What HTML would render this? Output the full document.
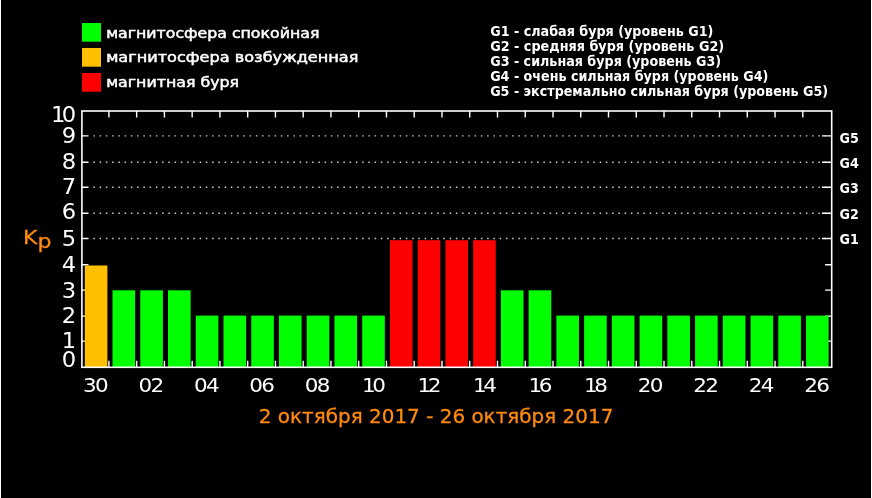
<!DOCTYPE html>
<html lang="ru"><head><meta charset="utf-8"><title>Kp</title>
<style>html,body{margin:0;padding:0;background:#000;}body{width:872px;height:498px;overflow:hidden;}svg{display:block;}.t{font-family:"DejaVu Sans","Liberation Sans",sans-serif;fill:#fff;}.b{font-family:"DejaVu Sans","Liberation Sans",sans-serif;font-weight:bold;fill:#fff;}.o{fill:#ff8a10;}</style></head><body>
<svg width="872" height="498" viewBox="0 0 872 498">
<rect x="0" y="0" width="872" height="498" fill="#000"/>
<rect x="0" y="0" width="1" height="498" fill="#fff"/><rect x="871" y="0" width="1" height="498" fill="#fff"/>
<defs><filter id="soft" x="0" y="0" width="872" height="498" filterUnits="userSpaceOnUse"><feGaussianBlur stdDeviation="0.45"/></filter></defs>
<g filter="url(#soft)">
<rect x="82" y="23" width="19" height="18.7" fill="#00ff00"/>
<rect x="82" y="48" width="19" height="18.7" fill="#ffc000"/>
<rect x="82" y="73" width="19" height="18.7" fill="#ff0000"/>
<text class="t" x="106.2" y="37.7" font-size="14.2" textLength="213.2" lengthAdjust="spacingAndGlyphs" stroke="#fff" stroke-width="0.5">магнитосфера спокойная</text>
<text class="t" x="106.2" y="62.4" font-size="14.2" textLength="252.2" lengthAdjust="spacingAndGlyphs" stroke="#fff" stroke-width="0.5">магнитосфера возбужденная</text>
<text class="t" x="106.2" y="87.0" font-size="14.2" textLength="132.9" lengthAdjust="spacingAndGlyphs" stroke="#fff" stroke-width="0.5">магнитная буря</text>
<text class="b" x="490.2" y="35.6" font-size="14" textLength="223.2" lengthAdjust="spacingAndGlyphs">G1 - слабая буря (уровень G1)</text>
<text class="b" x="490.2" y="50.7" font-size="14" textLength="234.0" lengthAdjust="spacingAndGlyphs">G2 - средняя буря (уровень G2)</text>
<text class="b" x="490.2" y="65.6" font-size="14" textLength="231.0" lengthAdjust="spacingAndGlyphs">G3 - сильная буря (уровень G3)</text>
<text class="b" x="490.2" y="80.5" font-size="14" textLength="278.2" lengthAdjust="spacingAndGlyphs">G4 - очень сильная буря (уровень G4)</text>
<text class="b" x="490.2" y="95.6" font-size="14" textLength="337.9" lengthAdjust="spacingAndGlyphs">G5 - экстремально сильная буря (уровень G5)</text>
<line x1="93.35" y1="238.50" x2="825.7" y2="238.50" stroke="#ccc" stroke-width="1.4" stroke-dasharray="1.5 4.7504"/>
<line x1="93.35" y1="213.30" x2="825.7" y2="213.30" stroke="#ccc" stroke-width="1.4" stroke-dasharray="1.5 4.7504"/>
<line x1="93.35" y1="187.30" x2="825.7" y2="187.30" stroke="#ccc" stroke-width="1.4" stroke-dasharray="1.5 4.7504"/>
<line x1="93.35" y1="162.20" x2="825.7" y2="162.20" stroke="#ccc" stroke-width="1.4" stroke-dasharray="1.5 4.7504"/>
<line x1="93.35" y1="135.90" x2="825.7" y2="135.90" stroke="#ccc" stroke-width="1.4" stroke-dasharray="1.5 4.7504"/>
<path d="M108.90 111.0v6.5M108.90 367.3v-6.5M136.65 111.0v6.5M136.65 367.3v-6.5M164.41 111.0v6.5M164.41 367.3v-6.5M192.16 111.0v6.5M192.16 367.3v-6.5M219.92 111.0v6.5M219.92 367.3v-6.5M247.68 111.0v6.5M247.68 367.3v-6.5M275.43 111.0v6.5M275.43 367.3v-6.5M303.19 111.0v6.5M303.19 367.3v-6.5M330.94 111.0v6.5M330.94 367.3v-6.5M358.70 111.0v6.5M358.70 367.3v-6.5M386.46 111.0v6.5M386.46 367.3v-6.5M414.21 111.0v6.5M414.21 367.3v-6.5M441.97 111.0v6.5M441.97 367.3v-6.5M469.72 111.0v6.5M469.72 367.3v-6.5M497.48 111.0v6.5M497.48 367.3v-6.5M525.24 111.0v6.5M525.24 367.3v-6.5M552.99 111.0v6.5M552.99 367.3v-6.5M580.75 111.0v6.5M580.75 367.3v-6.5M608.50 111.0v6.5M608.50 367.3v-6.5M636.26 111.0v6.5M636.26 367.3v-6.5M664.02 111.0v6.5M664.02 367.3v-6.5M691.77 111.0v6.5M691.77 367.3v-6.5M719.53 111.0v6.5M719.53 367.3v-6.5M747.28 111.0v6.5M747.28 367.3v-6.5M775.04 111.0v6.5M775.04 367.3v-6.5M802.80 111.0v6.5M802.80 367.3v-6.5M81.9 341.10h6.6M831.7 341.10h-6.6M81.9 316.10h6.6M831.7 316.10h-6.6M81.9 290.10h6.6M831.7 290.10h-6.6M81.9 264.80h6.6M831.7 264.80h-6.6M81.9 238.50h6.6M831.7 238.50h-9.7M81.9 213.30h6.6M831.7 213.30h-9.7M81.9 187.30h6.6M831.7 187.30h-9.7M81.9 162.20h6.6M831.7 162.20h-9.7M81.9 135.90h6.6M831.7 135.90h-9.7" stroke="#fff" stroke-width="1.4" fill="none"/>
<rect x="84.80" y="265.50" width="22.6" height="101.80" fill="#ffc000"/>
<rect x="112.54" y="290.30" width="22.6" height="77.00" fill="#00ff00"/>
<rect x="140.28" y="290.30" width="22.6" height="77.00" fill="#00ff00"/>
<rect x="168.02" y="290.30" width="22.6" height="77.00" fill="#00ff00"/>
<rect x="195.76" y="315.60" width="22.6" height="51.70" fill="#00ff00"/>
<rect x="223.50" y="315.60" width="22.6" height="51.70" fill="#00ff00"/>
<rect x="251.24" y="315.60" width="22.6" height="51.70" fill="#00ff00"/>
<rect x="278.98" y="315.60" width="22.6" height="51.70" fill="#00ff00"/>
<rect x="306.72" y="315.60" width="22.6" height="51.70" fill="#00ff00"/>
<rect x="334.46" y="315.60" width="22.6" height="51.70" fill="#00ff00"/>
<rect x="362.20" y="315.60" width="22.6" height="51.70" fill="#00ff00"/>
<rect x="389.94" y="240.20" width="22.6" height="127.10" fill="#ff0000"/>
<rect x="417.68" y="240.20" width="22.6" height="127.10" fill="#ff0000"/>
<rect x="445.42" y="240.20" width="22.6" height="127.10" fill="#ff0000"/>
<rect x="473.16" y="240.20" width="22.6" height="127.10" fill="#ff0000"/>
<rect x="500.90" y="290.30" width="22.6" height="77.00" fill="#00ff00"/>
<rect x="528.64" y="290.30" width="22.6" height="77.00" fill="#00ff00"/>
<rect x="556.38" y="315.60" width="22.6" height="51.70" fill="#00ff00"/>
<rect x="584.12" y="315.60" width="22.6" height="51.70" fill="#00ff00"/>
<rect x="611.86" y="315.60" width="22.6" height="51.70" fill="#00ff00"/>
<rect x="639.60" y="315.60" width="22.6" height="51.70" fill="#00ff00"/>
<rect x="667.34" y="315.60" width="22.6" height="51.70" fill="#00ff00"/>
<rect x="695.08" y="315.60" width="22.6" height="51.70" fill="#00ff00"/>
<rect x="722.82" y="315.60" width="22.6" height="51.70" fill="#00ff00"/>
<rect x="750.56" y="315.60" width="22.6" height="51.70" fill="#00ff00"/>
<rect x="778.30" y="315.60" width="22.6" height="51.70" fill="#00ff00"/>
<rect x="806.04" y="315.60" width="22.6" height="51.70" fill="#00ff00"/>
<rect x="81.9" y="111.0" width="749.80" height="256.30" fill="none" stroke="#fff" stroke-width="1.6"/>
<text class="t" transform="translate(76.2 366.5) scale(1.1 1)" font-size="20.6" text-anchor="end">0</text>
<text class="t" transform="translate(76.2 348.4) scale(1.1 1)" font-size="20.6" text-anchor="end">1</text>
<text class="t" transform="translate(76.2 322.9) scale(1.1 1)" font-size="20.6" text-anchor="end">2</text>
<text class="t" transform="translate(76.2 297.8) scale(1.1 1)" font-size="20.6" text-anchor="end">3</text>
<text class="t" transform="translate(76.2 271.7) scale(1.1 1)" font-size="20.6" text-anchor="end">4</text>
<text class="t" transform="translate(76.2 245.6) scale(1.1 1)" font-size="20.6" text-anchor="end">5</text>
<text class="t" transform="translate(76.2 219.4) scale(1.1 1)" font-size="20.6" text-anchor="end">6</text>
<text class="t" transform="translate(76.2 194.1) scale(1.1 1)" font-size="20.6" text-anchor="end">7</text>
<text class="t" transform="translate(76.2 168.5) scale(1.1 1)" font-size="20.6" text-anchor="end">8</text>
<text class="t" transform="translate(76.2 143.0) scale(1.1 1)" font-size="20.6" text-anchor="end">9</text>
<text class="t" transform="translate(76.2 121.7) scale(1.1 1)" font-size="20.6" text-anchor="end">1<tspan dx="-3.3">0</tspan></text>
<text class="t" transform="translate(108.6 392) scale(1.15 1)" font-size="18.7" text-anchor="end">3<tspan dx="-1.5">0</tspan></text>
<text class="t" transform="translate(164.1 392) scale(1.15 1)" font-size="18.7" text-anchor="end">0<tspan dx="-1.5">2</tspan></text>
<text class="t" transform="translate(219.6 392) scale(1.15 1)" font-size="18.7" text-anchor="end">0<tspan dx="-1.5">4</tspan></text>
<text class="t" transform="translate(275.0 392) scale(1.15 1)" font-size="18.7" text-anchor="end">0<tspan dx="-1.5">6</tspan></text>
<text class="t" transform="translate(330.5 392) scale(1.15 1)" font-size="18.7" text-anchor="end">0<tspan dx="-1.5">8</tspan></text>
<text class="t" transform="translate(386.0 392) scale(1.15 1)" font-size="18.7" text-anchor="end">1<tspan dx="-3.0">0</tspan></text>
<text class="t" transform="translate(441.5 392) scale(1.15 1)" font-size="18.7" text-anchor="end">1<tspan dx="-3.0">2</tspan></text>
<text class="t" transform="translate(497.0 392) scale(1.15 1)" font-size="18.7" text-anchor="end">1<tspan dx="-3.0">4</tspan></text>
<text class="t" transform="translate(552.4 392) scale(1.15 1)" font-size="18.7" text-anchor="end">1<tspan dx="-3.0">6</tspan></text>
<text class="t" transform="translate(607.9 392) scale(1.15 1)" font-size="18.7" text-anchor="end">1<tspan dx="-3.0">8</tspan></text>
<text class="t" transform="translate(663.4 392) scale(1.15 1)" font-size="18.7" text-anchor="end">2<tspan dx="-1.5">0</tspan></text>
<text class="t" transform="translate(718.9 392) scale(1.15 1)" font-size="18.7" text-anchor="end">2<tspan dx="-1.5">2</tspan></text>
<text class="t" transform="translate(774.4 392) scale(1.15 1)" font-size="18.7" text-anchor="end">2<tspan dx="-1.5">4</tspan></text>
<text class="t" transform="translate(829.8 392) scale(1.15 1)" font-size="18.7" text-anchor="end">2<tspan dx="-1.5">6</tspan></text>
<text class="t o" stroke="#ff8a10" stroke-width="0.3" x="258.8" y="422.8" font-size="20.2" textLength="354.6" lengthAdjust="spacingAndGlyphs">2 октября 2017 - 26 октября 2017</text>
<text class="t o" stroke="#ff8a10" stroke-width="0.3" transform="translate(23 244.2) scale(1.1 1)" font-size="20">K<tspan dy="3.4">p</tspan></text>
<text class="b" x="839.5" y="244.3" font-size="14.6" textLength="19.3" lengthAdjust="spacingAndGlyphs">G1</text>
<text class="b" x="839.5" y="219.0" font-size="14.6" textLength="19.3" lengthAdjust="spacingAndGlyphs">G2</text>
<text class="b" x="839.5" y="192.8" font-size="14.6" textLength="19.3" lengthAdjust="spacingAndGlyphs">G3</text>
<text class="b" x="839.5" y="167.7" font-size="14.6" textLength="19.3" lengthAdjust="spacingAndGlyphs">G4</text>
<text class="b" x="839.5" y="142.6" font-size="14.6" textLength="19.3" lengthAdjust="spacingAndGlyphs">G5</text>
</g>
</svg></body></html>
